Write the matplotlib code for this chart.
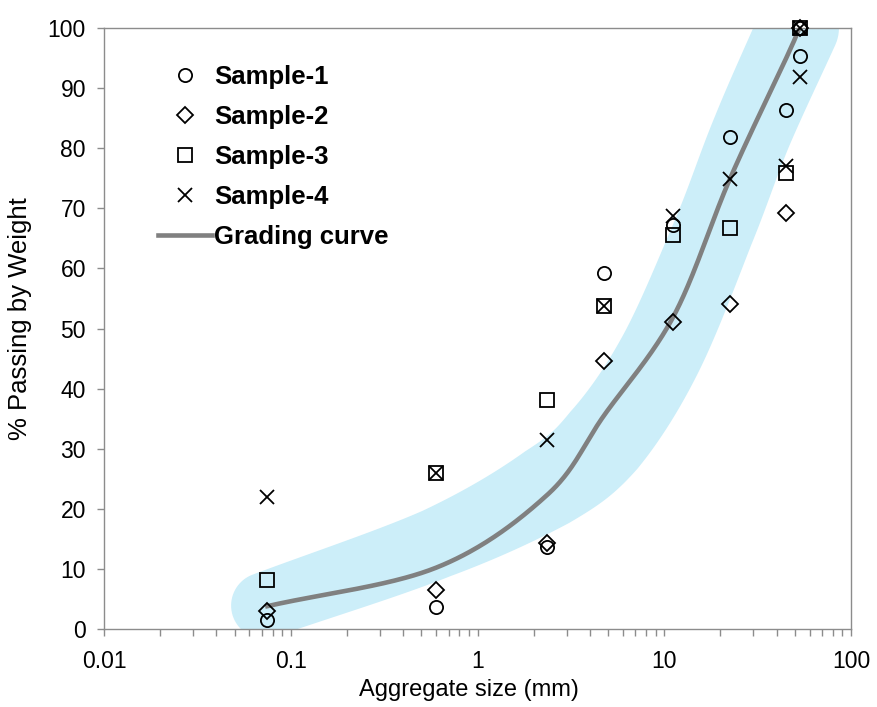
import numpy as np
import matplotlib
matplotlib.use("Agg")
import matplotlib.pyplot as plt
from matplotlib import font_manager
from matplotlib.ticker import FixedLocator, LogLocator, NullFormatter

# Sieve sizes (mm) and percent passing for each sample
sieve_mm = [0.075, 0.6, 2.36, 4.75, 11.2, 22.4, 45, 53]
sample1_size = [0.075, 0.6, 2.36, 4.75, 11.2, 22.4, 45, 53, 53]
sample1 = [1.5, 3.6, 13.7, 59.2, 67.3, 81.9, 86.4, 95.4, 100]
sample2_size = sieve_mm
sample2 = [3.0, 6.5, 14.3, 44.6, 51.1, 54.0, 69.2, 100]
sample3_size = sieve_mm
sample3 = [8.2, 26.0, 38.1, 53.7, 65.6, 66.7, 75.9, 100]
sample4_size = [0.075, 0.6, 2.36, 4.75, 11.2, 22.4, 45, 53, 53]
sample4 = [22.0, 26.0, 31.4, 53.7, 68.8, 74.9, 77.0, 91.8, 100]

# Design grading curve and the centre line of its tolerance envelope
grading_size = sieve_mm
grading_pct = [3.8, 10.2, 22.3, 35.5, 52.0, 74.8, 95.0, 100]
band_size = [0.072, 0.6, 2.36, 4.75, 9.5, 18.5, 29.5, 52]
band_pct = [3.9, 14.2, 23.6, 31.4, 45.6, 66.4, 82.8, 100]

x_ticks = [0.01, 0.1, 1, 10, 100]
x_tick_labels = ["0.01", "0.1", "1", "10", "100"]
y_ticks = list(range(0, 101, 10))

# envelope stroke width (pixels) at each centre-line node
band_width_px = [66, 71, 84, 88, 84, 80, 80, 82]


def smooth_log(xs, ys, n=60):
    """Catmull-Rom smoothing in (log10 x, y) space, like a spreadsheet smoothed line.
    Returns x, y and the fractional node index of every output point."""
    P = np.column_stack([np.log10(np.asarray(xs, float)), np.asarray(ys, float)])
    P = np.vstack([2 * P[0] - P[1], P, 2 * P[-1] - P[-2]])
    t = np.linspace(0, 1, n)[:, None]
    parts, params = [], []
    for i in range(1, len(P) - 2):
        p0, p1, p2, p3 = P[i - 1], P[i], P[i + 1], P[i + 2]
        seg = 0.5 * (2 * p1 + (-p0 + p2) * t
                     + (2 * p0 - 5 * p1 + 4 * p2 - p3) * t ** 2
                     + (-p0 + 3 * p1 - 3 * p2 + p3) * t ** 3)
        u = (i - 1) + t[:, 0]
        if i > 1:
            seg, u = seg[1:], u[1:]
        parts.append(seg)
        params.append(u)
    C = np.vstack(parts)
    return 10 ** C[:, 0], C[:, 1], np.concatenate(params)


def band_outline(ax, xs, ys, widths):
    """Outline of a thick stroke with round ends and a varying pixel width."""
    pts = ax.transData.transform(np.column_stack([xs, ys]))
    d = np.gradient(pts, axis=0)
    d /= np.hypot(d[:, 0], d[:, 1])[:, None]
    nrm = np.column_stack([-d[:, 1], d[:, 0]])
    hw = 0.5 * np.asarray(widths, float)
    left = pts + nrm * hw[:, None]
    right = pts - nrm * hw[:, None]
    th1 = np.arctan2(d[-1, 1], d[-1, 0])
    th0 = np.arctan2(d[0, 1], d[0, 0])
    a1 = np.linspace(th1 + np.pi / 2, th1 - np.pi / 2, 40)
    a0 = np.linspace(th0 - np.pi / 2, th0 - 3 * np.pi / 2, 40)
    cap1 = pts[-1] + hw[-1] * np.column_stack([np.cos(a1), np.sin(a1)])
    cap0 = pts[0] + hw[0] * np.column_stack([np.cos(a0), np.sin(a0)])
    outline = np.vstack([left, cap1, right[::-1], cap0])
    return ax.transData.inverted().transform(outline)


names = {f.name for f in font_manager.fontManager.ttflist}
base = "Liberation Sans" if "Liberation Sans" in names else "DejaVu Sans"
narrow = "Liberation Sans Narrow" if "Liberation Sans Narrow" in names else base
plt.rcParams["font.family"] = [base, "DejaVu Sans"]

fig = plt.figure(figsize=(8.77, 7.07), dpi=100)
ax = fig.add_axes([104 / 877, 1 - 629 / 707, 747 / 877, 601 / 707])

ax.set_xscale("log")
ax.set_xlim(0.01, 100)
ax.set_ylim(0, 100)

# Envelope band
bx, by, bu = smooth_log(band_size, band_pct)
bw = np.interp(bu, np.arange(len(band_width_px)), band_width_px)
outline = band_outline(ax, bx, by, bw)
ax.fill(outline[:, 0], outline[:, 1], color="#CCEEF9", lw=0, zorder=1)

# Grading curve
gx, gy, _ = smooth_log(grading_size, grading_pct)

mk = dict(ls="none", mfc="none", mec="black", mew=1.3, clip_on=False, zorder=4)
ax.plot(sample1_size, sample1, marker="o", ms=9.5, label="Sample-1", **mk)
ax.plot(sample2_size, sample2, marker="D", ms=8.3, label="Sample-2", **mk)
ax.plot(sample3_size, sample3, marker="s", ms=9.5, label="Sample-3", **mk)
ax.plot(sample4_size, sample4, marker="x", ms=9.5, label="Sample-4", **mk)
ax.plot(gx, gy, color="#808080", lw=3.3, zorder=3, label="Grading curve")

# Axes styling
for s in ax.spines.values():
    s.set_color("#8c8c8c")
    s.set_linewidth(1.0)

ax.xaxis.set_major_locator(FixedLocator(x_ticks))
ax.set_xticklabels(x_tick_labels)
ax.xaxis.set_minor_locator(LogLocator(base=10, subs=np.arange(2, 10)))
ax.xaxis.set_minor_formatter(NullFormatter())
ax.set_yticks(y_ticks)
ax.tick_params(axis="both", which="major", direction="out", length=5, width=1,
               color="#8c8c8c", labelsize=16.5, labelcolor="black")
ax.tick_params(axis="x", which="major", pad=10)
ax.tick_params(axis="y", which="major", pad=8)
ax.tick_params(axis="x", which="minor", direction="out", length=5, width=1,
               color="#8c8c8c")
ax.tick_params(top=False, right=False, which="both")

ax.set_xlabel("Aggregate size (mm)", fontsize=17, family=[narrow, base])
ax.set_ylabel("% Passing by Weight", fontsize=18.5, family=[narrow, base])
ax.xaxis.set_label_coords(0.489, -0.083)
ax.yaxis.set_label_coords(-0.097, 0.517)

leg = ax.legend(loc="upper left", bbox_to_anchor=(0.072, 0.939), frameon=False,
                prop={"size": 18.5, "weight": "bold"}, handlelength=2.1,
                handletextpad=0.1, labelspacing=0.63, borderpad=0,
                borderaxespad=0, numpoints=1)

fig.savefig("out.png", dpi=100)
